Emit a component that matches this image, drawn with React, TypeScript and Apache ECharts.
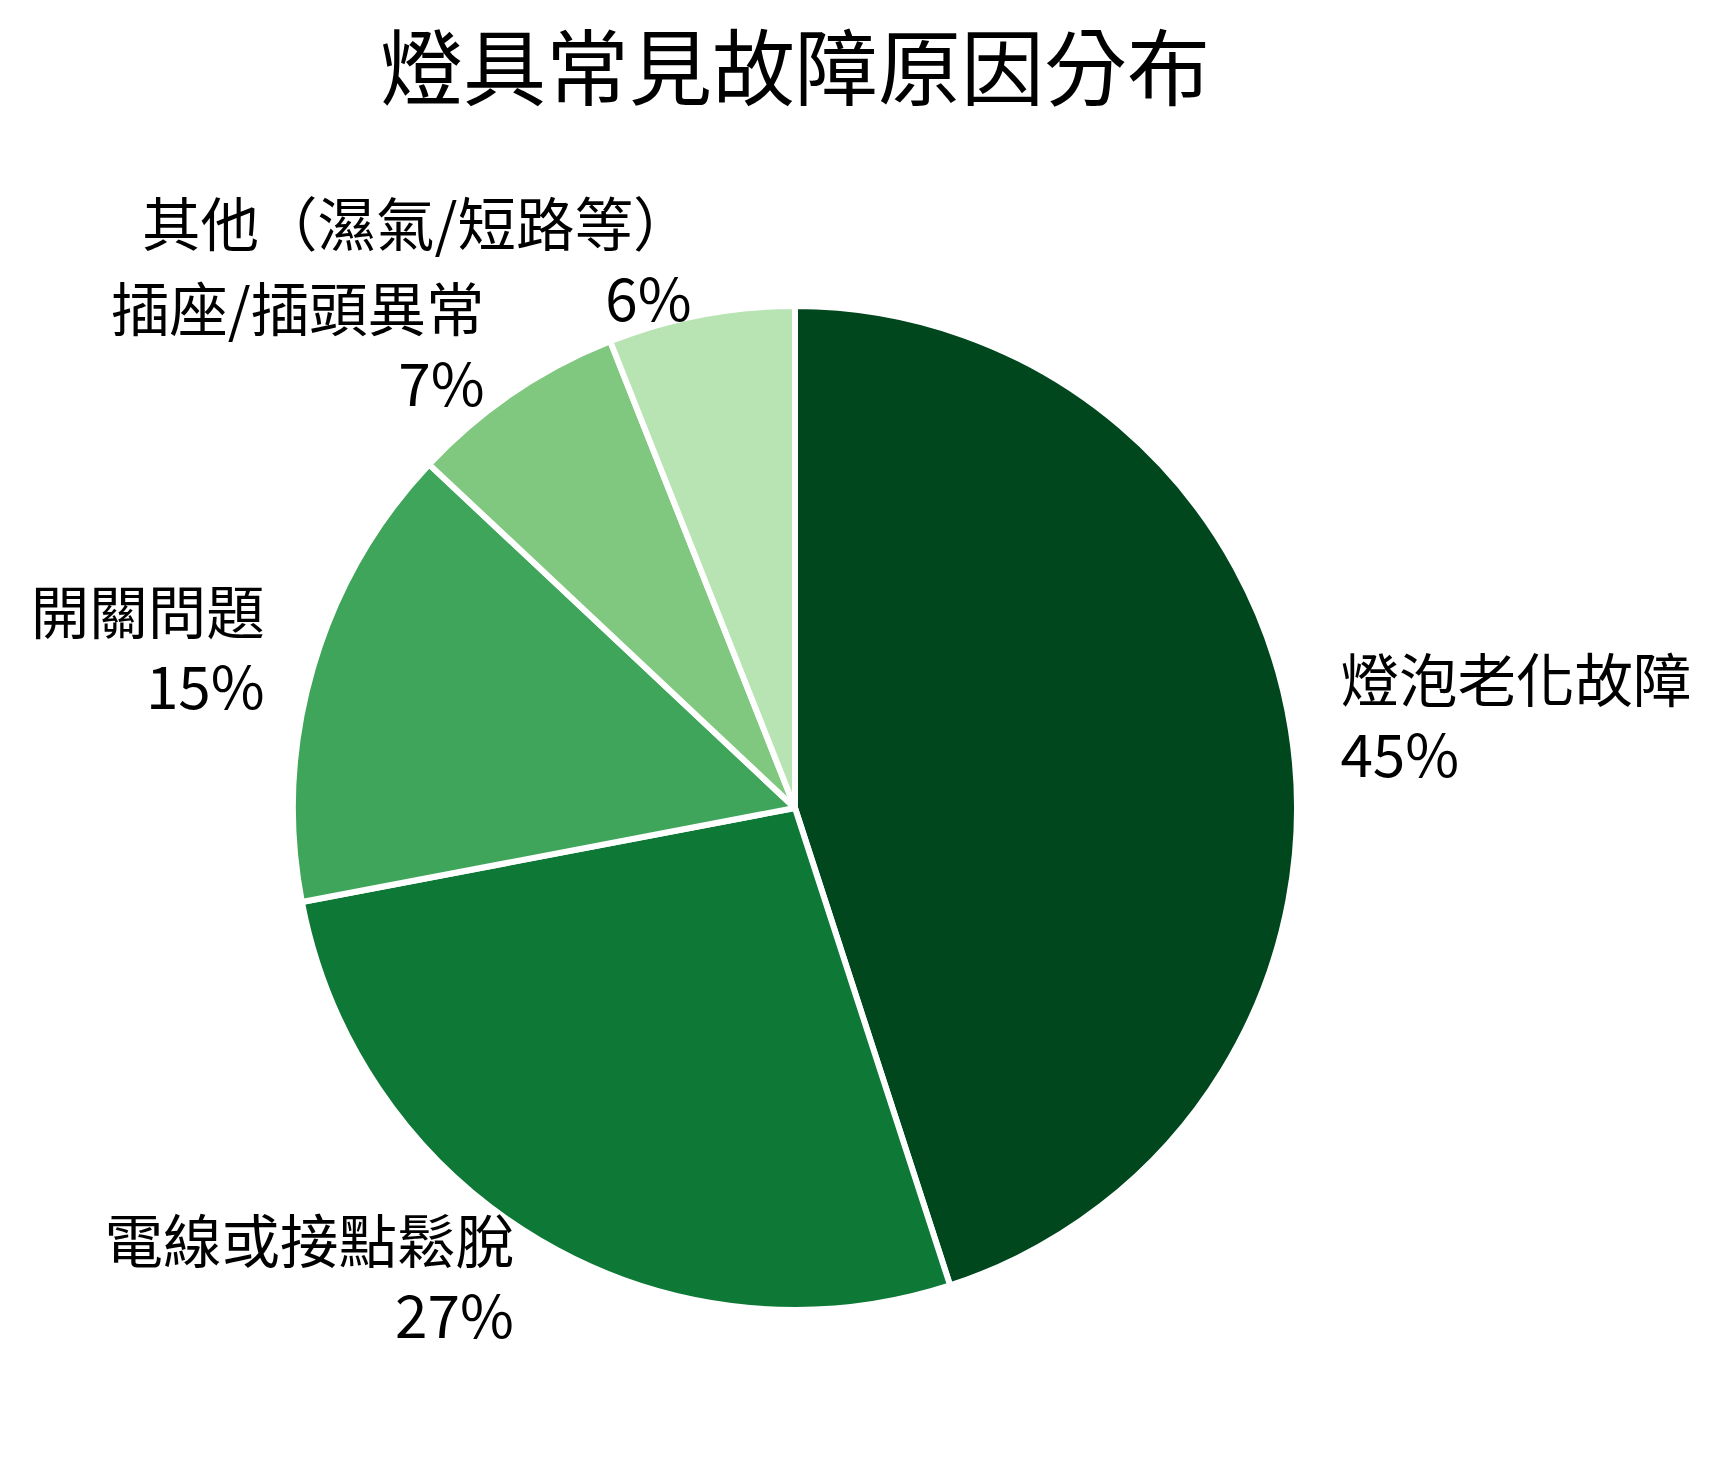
import { useEffect, useRef } from 'react';
import * as echarts from 'echarts';

const title = '燈具常見故障原因分布';
const categories = ['燈泡老化故障', '電線或接點鬆脫', '開關問題', '插座/插頭異常', '其他（濕氣/短路等）'];
const shares = [45, 27, 15, 7, 6];
const sliceColors = ['#00471e', '#0e7836', '#3fa55b', '#80c77f', '#b8e3b2'];

const FONT = '"Noto Sans CJK TC", "Noto Sans CJK SC", sans-serif';
const R = 502;

export default function App() {
  const box = useRef<HTMLDivElement>(null);

  useEffect(() => {
    if (!box.current) return;
    const chart = echarts.init(box.current, undefined, { renderer: 'svg' });
    chart.setOption({
      animation: false,
      backgroundColor: '#fff',
      graphic: [
        {
          type: 'text',
          x: 795,
          y: 63,
          style: {
            text: title,
            font: `83px ${FONT}`,
            fill: '#000',
            textAlign: 'center',
            textVerticalAlign: 'middle',
          },
        },
      ],
      series: [
        {
          type: 'pie',
          center: [795, 808],
          radius: R,
          startAngle: 90,
          clockwise: true,
          avoidLabelOverlap: false,
          itemStyle: { borderColor: '#fff', borderWidth: 6 },
          label: {
            show: true,
            position: 'outside',
            distanceToLabelLine: 0,
            fontFamily: FONT,
            fontSize: 58.5,
            lineHeight: 75,
            color: '#000',
            formatter: (p: any) => `${p.name}\n${p.value}%`,
          },
          labelLine: { show: false, length: R * 0.1, length2: 0 },
          labelLayout: { hideOverlap: false, dy: -8 },
          emphasis: { disabled: true },
          data: categories.map((name, i) => ({
            name,
            value: shares[i],
            itemStyle: { color: sliceColors[i] },
          })),
        },
      ],
    });
    return () => chart.dispose();
  }, []);

  return (
    <div
      ref={box}
      style={{ position: 'fixed', left: 0, top: 0, width: 1721, height: 1468 }}
    />
  );
}
